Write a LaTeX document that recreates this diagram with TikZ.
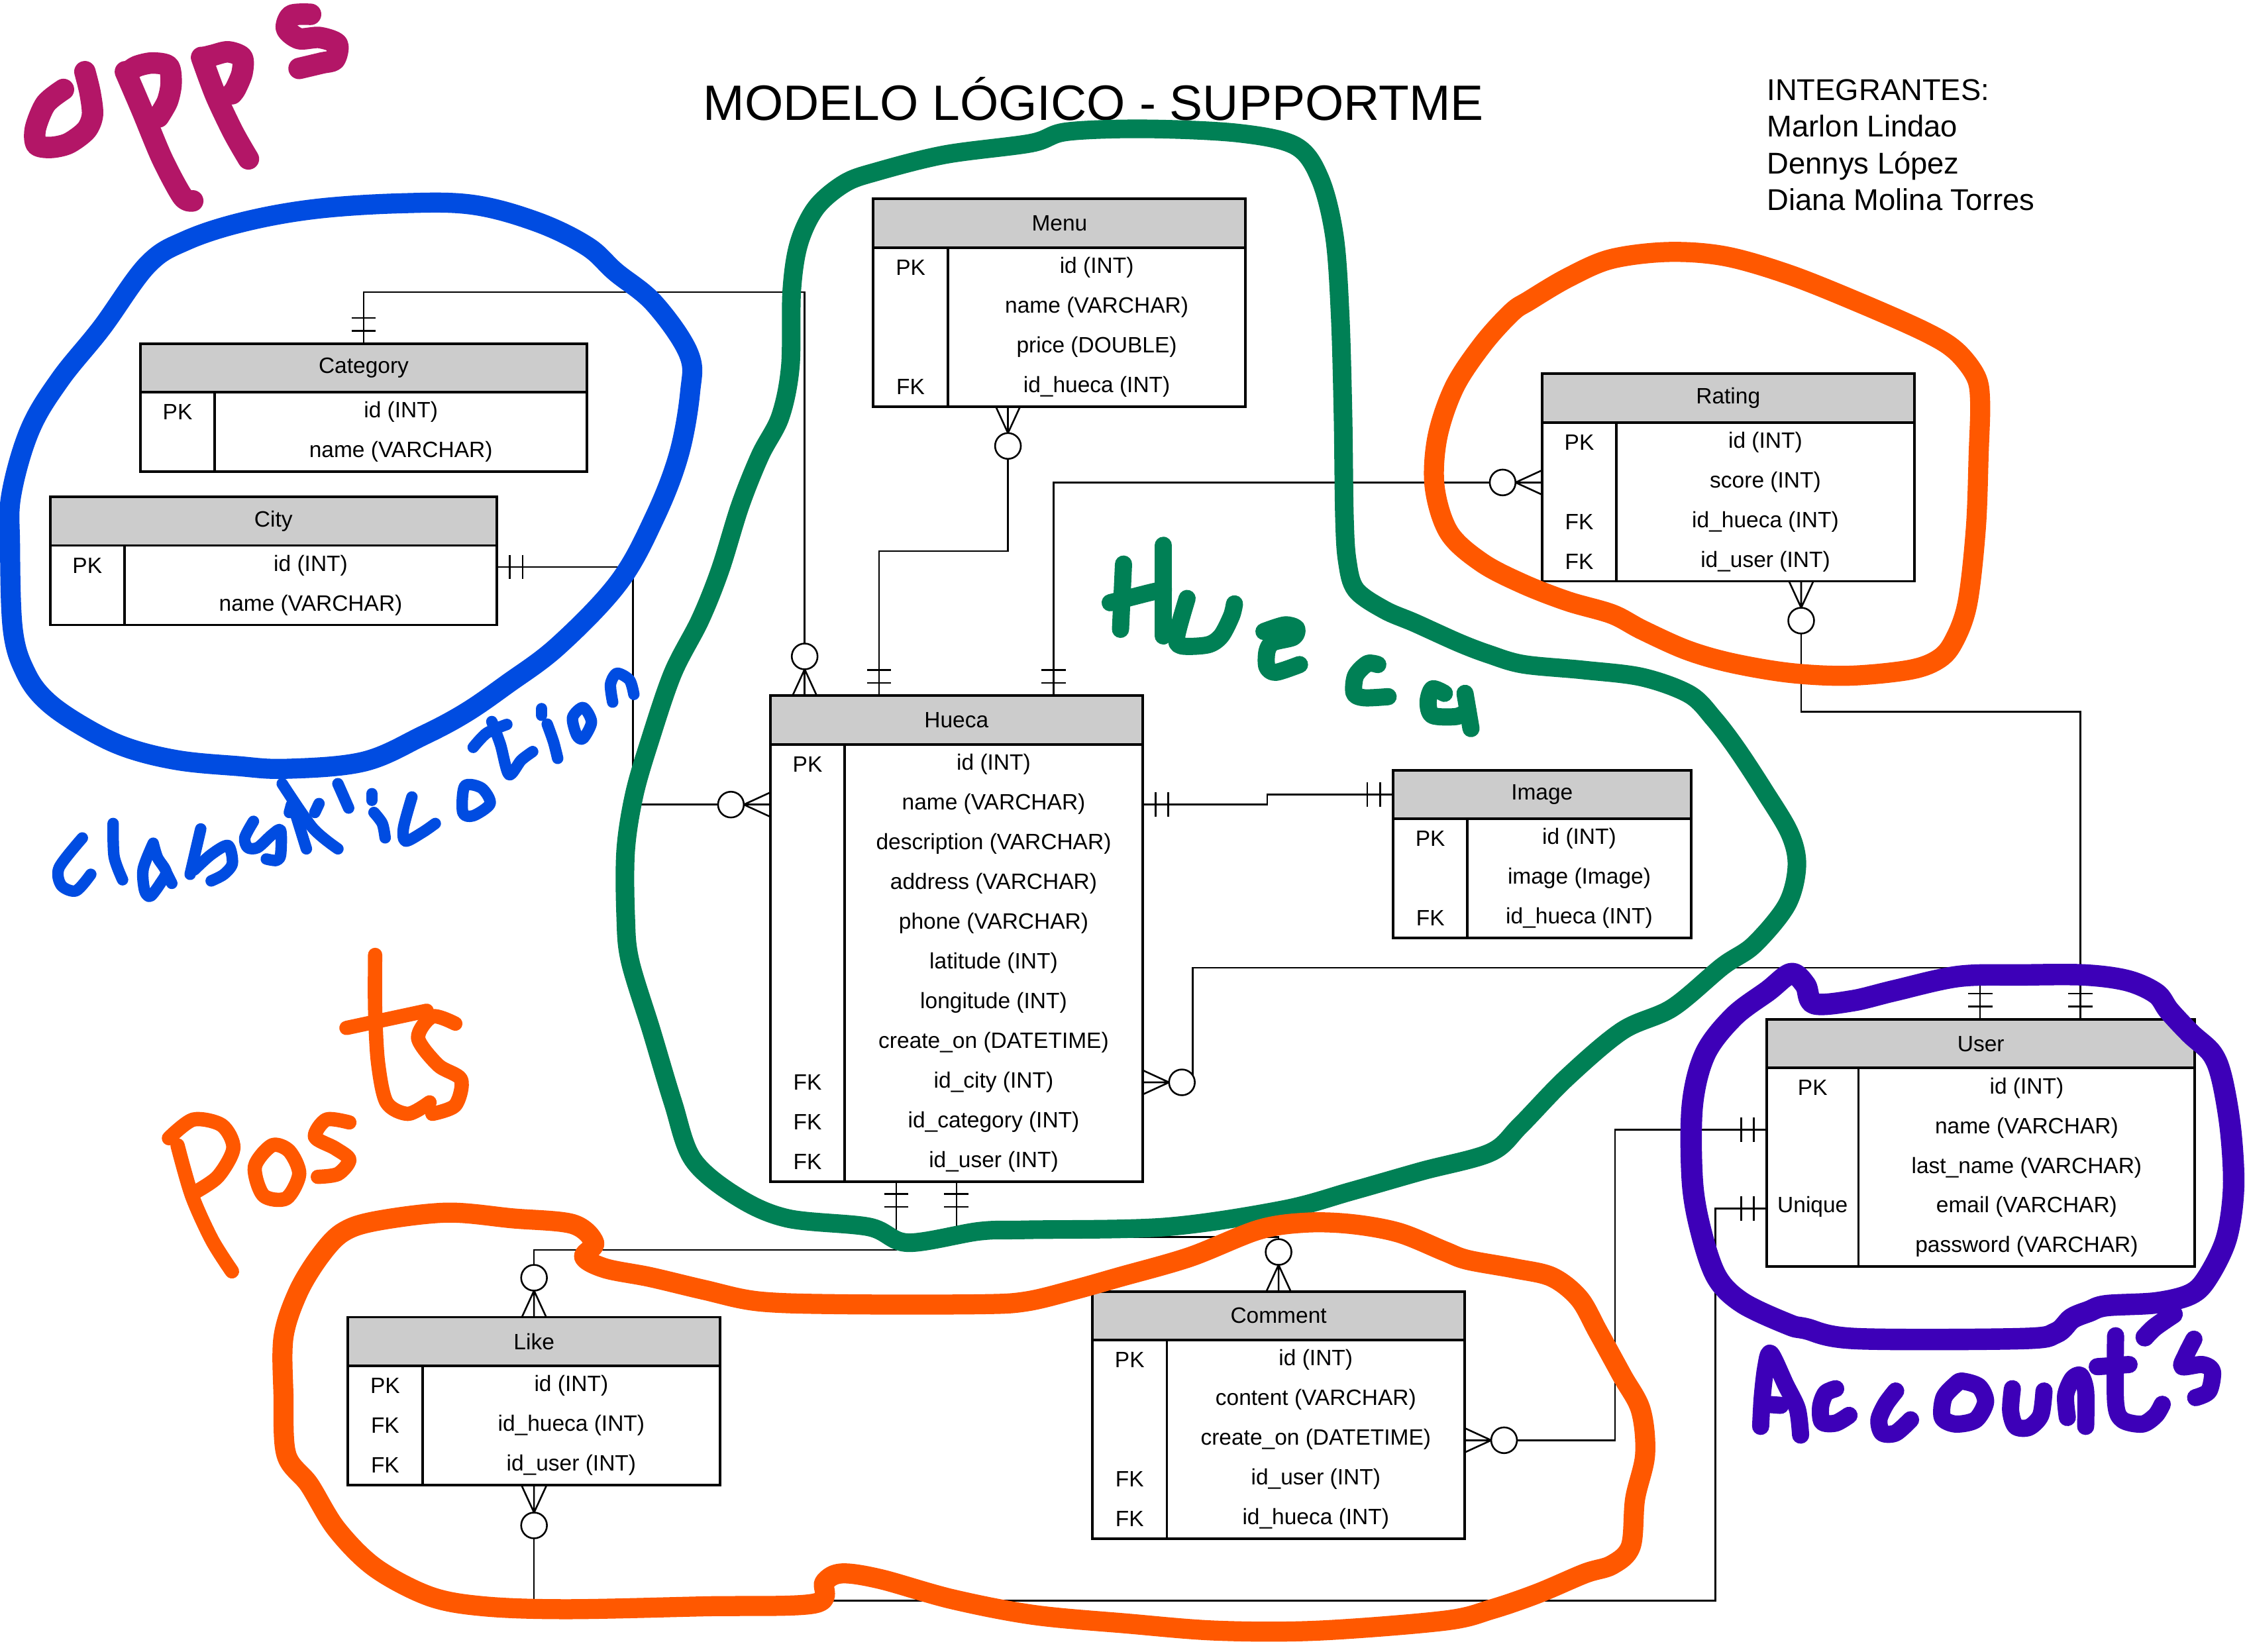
\documentclass[tikz,border=0pt]{standalone}
\usepackage{fontspec}
\setmainfont{Liberation Sans}
\definecolor{hdrgray}{HTML}{CCCCCC}
\definecolor{annmag}{HTML}{B31667}
\definecolor{annblue}{HTML}{004CE1}
\definecolor{anngreen}{HTML}{008055}
\definecolor{annorange}{HTML}{FF5800}
\definecolor{annpurple}{HTML}{3D00B8}
\tikzset{
  tabframe/.style={draw=black, line width=1.8pt, inner sep=0pt, outer sep=0pt},
  tabline/.style={draw=black, line width=1.8pt},
  tabtext/.style={font=\fontsize{15.5}{18}\selectfont, inner sep=0pt},
  conn/.style={draw=black, line width=1.2pt},
  hand/.style={line cap=round, line join=round},
}
% #1 name #2 xl #3 xdiv #4 xr #5 top #6 nrows #7 title #8 rows
\newcommand{\ertab}[8]{%
  \pgfmathsetmacro\ertw{#4-#2}%
  \pgfmathsetmacro\erth{34+27.75*#6}%
  \fill[hdrgray] (#2,#5) rectangle (#4,#5+34);
  \node[tabframe, minimum width=\ertw pt, minimum height=\erth pt, anchor=north west] (#1) at (#2,#5) {};
  \draw[tabline] (#2,#5+34) -- (#4,#5+34);
  \draw[tabline] (#3,#5+34) -- (#3,#5+\erth);
  \node[tabtext] (#1-title) at ({(#2+#4)/2},#5+17) {#7};
  \foreach \k/\v [count=\i from 0] in {#8} {
    \node[tabtext] (#1-k\i) at ({(#2+#3)/2},{#5+34+27.75*(\i+0.5)}) {\k};
    \node[tabtext] (#1-v\i) at ({(#3+#4)/2},{#5+34+27.75*(\i+0.5)}) {\v};
  }
}
\newcommand{\erone}[2]{%
  \begin{scope}[shift={(#1)}, rotate=#2]
    \draw[conn] (9,-8.5) -- (9,8.5) (18,-8.5) -- (18,8.5);
  \end{scope}}
\newcommand{\ermany}[2]{%
  \begin{scope}[shift={(#1)}, rotate=#2]
    \draw[conn] (0,-8.5) -- (18.5,0) -- (0,8.5) (0,0) -- (18.5,0);
    \draw[conn, fill=white] (27.5,0) circle[radius=9];
  \end{scope}}
\begin{document}
\begin{tikzpicture}[x=1pt,y=-1pt]
\useasboundingbox[fill=white] (0,0) rectangle (1568,1153.9);

% ---------- titles ----------
\node[anchor=base west, font=\fontsize{34.7}{40}\selectfont, inner sep=0pt] (title) at (491,84) {MODELO LÓGICO - SUPPORTME};
\node[anchor=base west, font=\fontsize{21}{25}\selectfont, inner sep=0pt] (mem1) at (1234,70) {INTEGRANTES:};
\node[anchor=base west, font=\fontsize{21}{25}\selectfont, inner sep=0pt] (mem2) at (1234,95.7) {Marlon Lindao};
\node[anchor=base west, font=\fontsize{21}{25}\selectfont, inner sep=0pt] (mem3) at (1234,121.4) {Dennys López};
\node[anchor=base west, font=\fontsize{21}{25}\selectfont, inner sep=0pt] (mem4) at (1234,147) {Diana Molina Torres};

% ---------- connector end points ----------
\coordinate (cat-t) at (254,240);
\coordinate (hue-t1) at (562,486);
\coordinate (city-r) at (347,396);
\coordinate (hue-l) at (538,562);
\coordinate (menu-b) at (704,284);
\coordinate (hue-t2) at (614,486);
\coordinate (rat-l) at (1077,337);
\coordinate (hue-t3) at (736,486);
\coordinate (hue-r1) at (798,562);
\coordinate (img-l) at (973,555);
\coordinate (hue-r2) at (798,756);
\coordinate (user-t1) at (1383,712);
\coordinate (rat-b) at (1258,406);
\coordinate (user-t2) at (1453,712);
\coordinate (hue-b1) at (626,825);
\coordinate (like-t) at (373,920);
\coordinate (hue-b2) at (668,825);
\coordinate (com-t) at (893,902);
\coordinate (com-r) at (1023,1006);
\coordinate (user-l1) at (1234,789);
\coordinate (like-b) at (373,1038);
\coordinate (user-l2) at (1234,844);

% ---------- connectors ----------
\draw[conn] (cat-t) -- (254,204) -- (562,204) -- (hue-t1);
\draw[conn] (city-r) -- (442,396) -- (442,562) -- (hue-l);
\draw[conn] (menu-b) -- (704,385) -- (614,385) -- (hue-t2);
\draw[conn] (rat-l) -- (736,337) -- (hue-t3);
\draw[conn] (hue-r1) -- (885,562) -- (885,555) -- (img-l);
\draw[conn] (hue-r2) -- (833,756) -- (833,676) -- (1383,676) -- (user-t1);
\draw[conn] (rat-b) -- (1258,497) -- (1453,497) -- (user-t2);
\draw[conn] (hue-b1) -- (626,873) -- (373,873) -- (like-t);
\draw[conn] (hue-b2) -- (668,864) -- (893,864) -- (com-t);
\draw[conn] (com-r) -- (1128,1006) -- (1128,789) -- (user-l1);
\draw[conn] (like-b) -- (373,1118) -- (1198,1118) -- (1198,844) -- (user-l2);

% ---------- tables ----------
\ertab{category}{98}{150}{410}{240}{2}{Category}{PK/id (INT), /name (VARCHAR)}
\ertab{city}{35}{87}{347}{347}{2}{City}{PK/id (INT), /name (VARCHAR)}
\ertab{menu}{610}{662}{870}{139}{4}{Menu}{PK/id (INT), /name (VARCHAR), /price (DOUBLE), FK/id\_hueca (INT)}
\ertab{rating}{1077}{1129}{1337}{261}{4}{Rating}{PK/id (INT), /score (INT), FK/id\_hueca (INT), FK/id\_user (INT)}
\ertab{hueca}{538}{590}{798}{486}{11}{Hueca}{PK/id (INT), /name (VARCHAR), /description (VARCHAR), /address (VARCHAR), /phone (VARCHAR), /latitude (INT), /longitude (INT), /create\_on (DATETIME), FK/id\_city (INT), FK/id\_category (INT), FK/id\_user (INT)}
\ertab{image}{973}{1025}{1181}{538}{3}{Image}{PK/id (INT), /image (Image), FK/id\_hueca (INT)}
\ertab{user}{1234}{1298}{1533}{712}{5}{User}{PK/id (INT), /name (VARCHAR), /last\_name (VARCHAR), Unique/email (VARCHAR), /password (VARCHAR)}
\ertab{like}{243}{295}{503}{920}{3}{Like}{PK/id (INT), FK/id\_hueca (INT), FK/id\_user (INT)}
\ertab{comment}{763}{815}{1023}{902}{5}{Comment}{PK/id (INT), /content (VARCHAR), /create\_on (DATETIME), FK/id\_user (INT), FK/id\_hueca (INT)}

% ---------- cardinalities ----------
\erone{cat-t}{90}   \ermany{hue-t1}{90}
\erone{city-r}{0}   \ermany{hue-l}{180}
\ermany{menu-b}{-90} \erone{hue-t2}{90}
\ermany{rat-l}{180} \erone{hue-t3}{90}
\erone{hue-r1}{0}   \erone{img-l}{180}
\ermany{hue-r2}{0}  \erone{user-t1}{90}
\ermany{rat-b}{-90} \erone{user-t2}{90}
\erone{hue-b1}{-90} \ermany{like-t}{90}
\erone{hue-b2}{-90} \ermany{com-t}{90}
\ermany{com-r}{0}   \erone{user-l1}{180}
\ermany{like-b}{-90} \erone{user-l2}{180}

% ---------- hand annotations ----------
% blue loop
\draw[hand, annblue, line width=14pt] plot[smooth cycle, tension=0.6] coordinates {
 (103,185) (130,168) (170,155) (220,146) (280,142) (330,143) (375,155) (410,172) (430,190)
 (457,212) (481,247) (482,274) (474,318) (457,362) (432,407) (390,451) (354,478) (325,498)
 (295,514) (254,532) (200,537) (165,535) (124,531) (88,522) (59,508) (33,490) (18,470)
 (9,440) (7,380) (8,345) (21,300) (42,265) (71,229)};
% classification
\begin{scope}[hand, annblue, line width=8pt]
\draw plot[smooth] coordinates {(57.5,585.3) (41.3,606) (42.8,618.4) (53.1,622.2) (63.4,610.7)};
\draw plot[smooth] coordinates {(79,575.2) (79.7,598.3) (85.6,614.5)};
\draw plot[smooth] coordinates {(107,589) (100,607) (101,622) (105,626) (112,617) (116,609) (110,599) (107,589)};
\draw (116,609) -- (120,617);
\draw (140.2,579) -- (132.8,610.7);
\draw plot[smooth] coordinates {(135.7,607.6) (147.6,596.8) (159.3,590.6) (162.3,603) (156.4,610.7) (147.5,615.3)};
\draw plot[smooth] coordinates {(177,573.7) (171,585) (173,592) (180,592) (190,583) (196,580) (196,597) (193,601) (186,600)};
\draw plot[smooth] coordinates {(197.1,547.4) (218.4,578.3) (236,592.9)};
\draw (206.6,569) -- (214,592.9);
\draw (203.6,562) -- (202.1,567.5);
\draw (222.8,561.3) -- (219.9,567.5);
\draw (236,547.4) -- (243.5,564.4);
\draw (259.7,554.4) -- (259.7,559);
\draw plot[smooth] coordinates {(261.2,567.5) (267,575.2) (269,585.2)};
\draw plot[smooth] coordinates {(287.7,556.7) (281.8,578.3) (283.3,587.5) (295.1,581.4) (304,575.2)};
\draw plot[smooth cycle] coordinates {(324.6,549) (323.2,567.5) (330.5,569.8) (342.3,561.3) (336.4,550.5)};
\draw plot[smooth] coordinates {(330.5,522) (340,512) (354,506)};
\draw plot[smooth] coordinates {(343.5,504) (349.5,520) (355.5,541) (364,531) (372,525)};
\draw (378.3,495) -- (378.3,499.6);
\draw plot[smooth] coordinates {(382.2,505.8) (386.6,518.2) (389.5,529.7)};
\draw plot[smooth cycle] coordinates {(407.3,494.2) (399.9,501.2) (402.8,513.5) (407.3,515.8) (413.1,504.3)};
\draw plot[smooth] coordinates {(427.9,490.4) (426.4,478) (430.9,470.3) (439.7,475) (442.7,485)};
\end{scope}

% opps
\begin{scope}[hand, annmag, line width=15pt]
\draw plot[smooth] coordinates {(44.3,62.5) (31.9,72.5) (24.8,89.5) (25.5,101) (35.4,103) (47.8,100.2) (60.2,91) (64.6,80.2) (62.9,64.8) (59.3,50.1)};
\draw plot[smooth] coordinates {(87.6,50.1) (99.2,77.1) (113.3,111) (127.5,137.3) (134.6,140.3)};
\draw plot[smooth] coordinates {(90,50) (95.6,46.3) (106.2,44) (117.7,46.3) (119.5,58.6) (116.9,70.9) (110.7,81.7)};
\draw plot[smooth] coordinates {(140.8,40.1) (150.5,66.3) (162.9,92.5) (173.5,111)};
\draw plot[smooth] coordinates {(143,40) (148.7,38.6) (159.3,36.2) (169.1,40.1) (169.1,50.9) (164.7,61.7) (162,65.5)};
\draw plot[smooth] coordinates {(216.9,10) (203.6,10.8) (200.1,20) (208.9,27) (223.1,26.2) (235.5,30.8) (233.7,41.6) (224.9,44) (208.9,47.8)};
\end{scope}

% green loop
\draw[hand, anngreen, line width=13pt] plot[smooth cycle, tension=0.55] coordinates {
 (612,120) (660,108) (720,100) (745,92) (800,90) (865,93) (905,102) (922,125) (932,165)
 (936,220) (938,290) (939,361) (941,392) (947,412) (967,426) (988,435) (1019,449) (1040,457)
 (1064,464) (1106,468) (1147,473) (1180,485) (1197,502) (1213,523) (1232,552) (1250,582)
 (1255,605) (1248,632) (1225,660) (1203,675) (1168,704) (1133,720) (1094,753) (1062,786)
 (1041,805) (993,818) (944,832) (896,845) (814,857) (717,859) (684,860) (634,868) (607,857)
 (550,851) (515,836) (484,810) (470,770) (455,720) (440,671) (437,640) (437,594) (443,555)
 (454,517) (470,470) (489,433) (503,398) (517,353) (531,318) (545,291) (552,256) (553,203)
 (558,170) (570,145) (590,128)};
% Hueca
\begin{scope}[hand, anngreen, line width=12pt]
\draw (784.7,394) -- (782.6,439.6);
\draw (812.6,380.9) -- (812.6,444.2);
\draw plot[smooth] coordinates {(775.4,421) (802.3,414.1) (812.6,411.8)};
\draw plot[smooth] coordinates {(829.1,418) (821.9,444.2) (825,451.1) (843.6,450.4) (852.9,444.2) (860.1,430.3) (862.2,421.8)};
\draw plot[smooth] coordinates {(882.8,441.1) (897.3,436.5) (905.5,438.8) (903.5,445) (889,448.8) (884.9,455) (884.9,465.8) (891.1,469.6) (907.6,464.2)};
\draw plot[smooth] coordinates {(962.3,464.2) (955.1,463.5) (946.8,472) (945.8,484.3) (953,487.4) (969.5,486.6)};
\draw plot[smooth] coordinates {(1008.8,484.3) (1000.5,481.2) (997.4,490.5) (1000.5,499.7) (1017,500.5) (1025.3,496.6)};
\draw plot[smooth] coordinates {(1023.2,484.3) (1025.3,496.6) (1027.4,508.9)};
\end{scope}

% orange loop (rating)
\draw[hand, annorange, line width=14pt] plot[smooth cycle, tension=0.55] coordinates {
 (1068,210) (1095,194) (1125,181) (1165,176) (1205,179) (1250,192) (1300,212) (1345,232)
 (1366,245) (1380,263) (1383,281) (1382,316) (1380,369) (1374,422) (1364,449) (1353,461)
 (1333,468) (1291,472) (1250,470) (1209,463) (1178,454) (1147,440) (1126,429) (1095,420)
 (1064,408) (1035,393) (1012,372) (1002,340) (1004,305) (1016,270) (1036,240) (1056,218)};
% orange loop (posts)
\draw[hand, annorange, line width=14pt] plot[smooth cycle, tension=0.55] coordinates {
 (415,868) (400,855) (358,851) (312,847) (262,853) (239,861) (223,878) (208,903) (198,934)
 (198,975) (200,1016) (216,1037) (235,1068) (262,1095) (300,1115) (338,1122) (396,1124)
 (492,1122) (569,1120) (576,1105) (588,1099) (615,1103) (665,1117) (722,1128) (787,1134)
 (850,1139) (920,1139) (1009,1132) (1042,1124) (1074,1113) (1107,1099) (1126,1093) (1139,1080)
 (1142,1047) (1149,1016) (1146,985) (1133,961) (1116,930) (1103,907) (1084,892) (1058,886)
 (1025,880) (1009,874) (977,861) (944,855) (912,854) (879,859) (831,878) (782,892) (750,901)
 (717,909) (684,911) (588,911) (530,909) (492,901) (454,892) (423,886) (408,878)};
% Posts
\begin{scope}[hand, annorange, line width=10pt]
\draw plot[smooth] coordinates {(124,800) (134,835) (148,866) (162,888)};
\draw plot[smooth] coordinates {(118,795) (135,782) (155,786) (163,802) (152,822) (134,834)};
\draw plot[smooth cycle] coordinates {(190,800) (178,815) (184,835) (200,837) (209,820) (202,804)};
\draw plot[smooth] coordinates {(244,784) (228,782) (220,794) (234,802) (244,810) (236,820) (222,822)};
\draw plot[smooth] coordinates {(262,667) (262,705) (264,742) (270,770) (285,778) (300,770)};
\draw plot[smooth] coordinates {(242,718) (270,712) (298,706)};
\draw plot[smooth] coordinates {(318,715) (302,710) (292,725) (306,744) (322,754) (318,772) (302,778)};
\end{scope}

% purple loop
\draw[hand, annpurple, line width=15pt] plot[smooth cycle, tension=0.55] coordinates {
 (1251,680) (1261,688) (1267,701) (1294,699) (1323,692) (1368,682) (1412,681) (1456,681)
 (1486,685) (1506,694) (1515,706) (1530,722) (1545,736) (1552,754) (1558,790) (1560,830)
 (1555,865) (1542,892) (1530,904) (1506,910) (1471,912) (1459,916) (1447,921) (1436,931)
 (1412,935) (1296,935) (1261,928) (1249,925) (1217,910) (1199,892) (1188,860) (1182,825)
 (1182,772) (1191,736) (1211,710) (1235,692)};
\draw[hand, annpurple, line width=13pt] plot[smooth] coordinates {(1518,918) (1505,927) (1498,934)};
% Accounts
\begin{scope}[hand, annpurple, line width=12pt]
\draw plot[smooth] coordinates {(1229.7,996.3) (1230.8,976.2) (1233.2,955.4) (1236.7,945.4) (1247.1,967) (1255.3,984) (1257.6,1002.4)};
\draw (1234.3,980.9) -- (1243.6,981.6);
\draw plot[smooth] coordinates {(1282.1,970) (1275.1,973.1) (1271.6,982.4) (1272.7,993.2) (1282.1,994) (1291.4,988.6)};
\draw plot[smooth] coordinates {(1324,971.6) (1317,980.9) (1312.3,991.7) (1314.7,1000.9) (1324,1000.9) (1334.4,991.7)};
\draw plot[smooth cycle] coordinates {(1365.9,967) (1357.7,976.2) (1356.6,990.1) (1365.9,994.7) (1379.9,991.7) (1386.8,979.3) (1382.2,968.5) (1370.5,964.7)};
\draw plot[smooth] coordinates {(1405.5,970) (1404.3,985.5) (1407.8,996.3) (1417.1,997) (1425.3,988.6) (1427.6,971.6)};
\draw plot[smooth] coordinates {(1443.9,990.1) (1442.7,974.7) (1447.4,963.1) (1453.2,960.8) (1456.7,971.6) (1456.7,996.3)};
\draw plot[smooth] coordinates {(1477.6,933) (1477.6,979.3) (1482.3,991.7) (1496.3,994.7) (1505.6,988.6) (1510.2,980.9)};
\draw (1464.8,954.6) -- (1487,953.1);
\draw plot[smooth] coordinates {(1532.3,935.4) (1526.5,946.9) (1524.2,954.6) (1538.2,953.1) (1545.2,957.7) (1542.8,971.6) (1533.5,976.2)};
\end{scope}
\end{tikzpicture}
\end{document}
